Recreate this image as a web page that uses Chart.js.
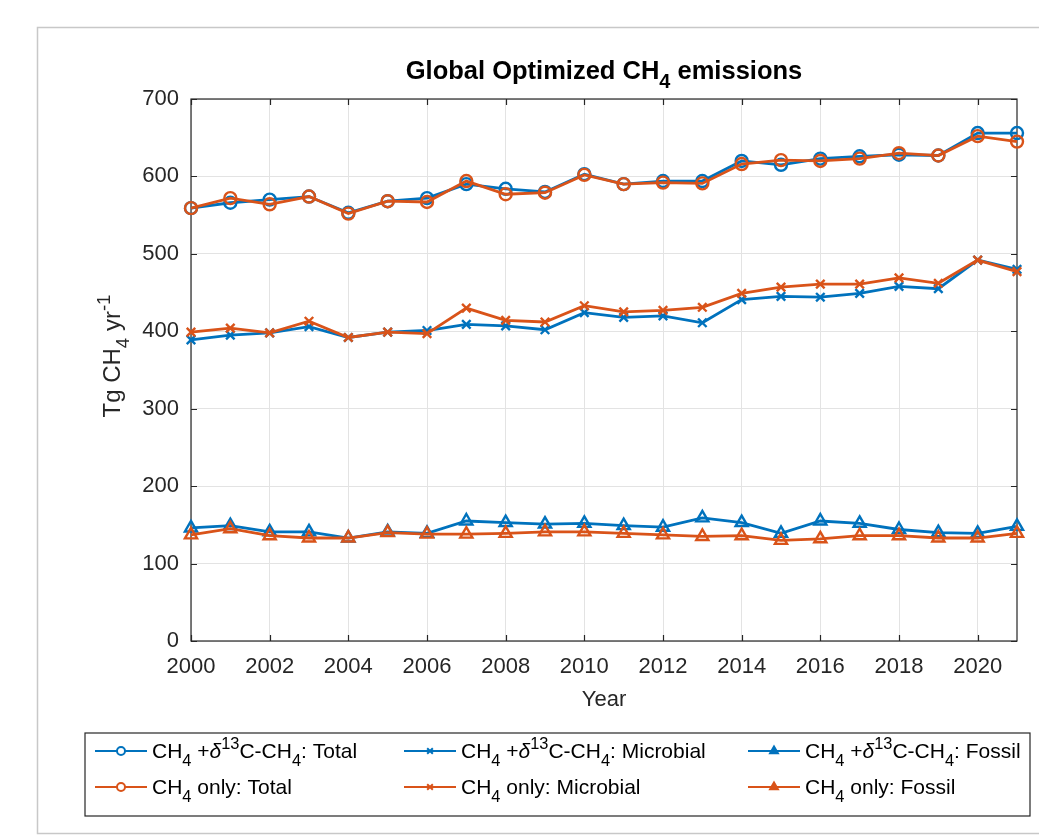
<!DOCTYPE html>
<html>
<head>
<meta charset="utf-8">
<script src="https://cdn.jsdelivr.net/npm/chart.js@4.4.1/dist/chart.umd.min.js"></script>
<style>
  html, body { margin: 0; padding: 0; background: #ffffff; }
  canvas { display: block; }
</style>
</head>
<body>
<canvas id="chart" width="1039" height="835"></canvas>
<script>
// Annual global optimized CH4 emissions (Tg CH4 / yr)
const years = [2000, 2001, 2002, 2003, 2004, 2005, 2006, 2007, 2008, 2009, 2010,
               2011, 2012, 2013, 2014, 2015, 2016, 2017, 2018, 2019, 2020, 2021];

// CH4 + δ13C-CH4 inversion
const totalIso   = [559, 566, 570, 574, 553, 568, 572, 590, 584, 580, 603, 590, 594, 594, 620, 615, 623, 626, 628, 627, 656, 656];
const microIso   = [389, 395, 398, 406, 392, 399, 401, 409, 407, 402, 424, 418, 420, 411, 441, 445, 444, 449, 458, 455, 492, 480];
const fossilIso  = [146, 149, 141, 141, 133, 141, 139, 155, 153, 151, 152, 149, 147, 159, 153, 139, 155, 152, 144, 140, 139, 148];

// CH4-only inversion
const totalOnly  = [559, 572, 564, 574, 552, 568, 567, 594, 577, 579, 602, 590, 592, 591, 616, 621, 620, 623, 630, 627, 652, 645];
const microOnly  = [399, 404, 398, 413, 392, 399, 397, 430, 414, 412, 433, 425, 427, 431, 449, 457, 461, 461, 469, 462, 492, 477];
const fossilOnly = [137, 145, 136, 133, 133, 140, 138, 138, 139, 141, 141, 139, 137, 135, 136, 130, 132, 136, 136, 133, 133, 139];

// Axis ticks
const xTickYears = [2000, 2002, 2004, 2006, 2008, 2010, 2012, 2014, 2016, 2018, 2020];
const yTickValues = [0, 100, 200, 300, 400, 500, 600, 700];

const BLUE = '#0072BD';
const ORANGE = '#D95319';
const AXIS = '#262626';
const FONT = '"Liberation Sans", Arial, Helvetica, sans-serif';

const toPoints = arr => arr.map((v, i) => ({ x: years[i], y: v }));

const seriesDefs = [
  { key: 'totalIso',   data: totalIso,   color: BLUE,   style: 'circle',   radius: 6, order: 1,
    label: [['CH'], ['4', 'sub'], [' +'], ['δ', 'it'], ['13', 'sup'], ['C-CH'], ['4', 'sub'], [': Total']] },
  { key: 'microIso',   data: microIso,   color: BLUE,   style: 'crossRot', radius: 6, order: 1,
    label: [['CH'], ['4', 'sub'], [' +'], ['δ', 'it'], ['13', 'sup'], ['C-CH'], ['4', 'sub'], [': Microbial']] },
  { key: 'fossilIso',  data: fossilIso,  color: BLUE,   style: 'triangle', radius: 7, order: 1,
    label: [['CH'], ['4', 'sub'], [' +'], ['δ', 'it'], ['13', 'sup'], ['C-CH'], ['4', 'sub'], [': Fossil']] },
  { key: 'totalOnly',  data: totalOnly,  color: ORANGE, style: 'circle',   radius: 6, order: 0,
    label: [['CH'], ['4', 'sub'], [' only: Total']] },
  { key: 'microOnly',  data: microOnly,  color: ORANGE, style: 'crossRot', radius: 6, order: 0,
    label: [['CH'], ['4', 'sub'], [' only: Microbial']] },
  { key: 'fossilOnly', data: fossilOnly, color: ORANGE, style: 'triangle', radius: 7, order: 0,
    label: [['CH'], ['4', 'sub'], [' only: Fossil']] }
];

// ---- rich text (sub/superscripts) ----
function segFont(kind, size, bold) {
  const s = (kind === 'sub' || kind === 'sup') ? size * 0.78 : size;
  const style = kind === 'it' ? 'italic ' : '';
  return style + (bold ? 'bold ' : '') + s.toFixed(1) + 'px ' + FONT;
}
function richWidth(ctx, segs, size, bold) {
  let w = 0;
  for (const [t, kind] of segs) {
    ctx.font = segFont(kind, size, bold);
    w += ctx.measureText(t).width;
  }
  return w;
}
function drawRich(ctx, segs, x, y, size, bold, align) {
  ctx.save();
  ctx.textBaseline = 'alphabetic';
  ctx.textAlign = 'left';
  let cx = x;
  if (align === 'center') cx = x - richWidth(ctx, segs, size, bold) / 2;
  for (const [t, kind] of segs) {
    ctx.font = segFont(kind, size, bold);
    let dy = 0;
    if (kind === 'sub') dy = size * 0.36;
    if (kind === 'sup') dy = -size * 0.42;
    ctx.fillText(t, cx, y + dy);
    cx += ctx.measureText(t).width;
  }
  ctx.restore();
}

// ---- figure decorations: frame, axes box, ticks, title, labels, legend ----
const decorations = {
  id: 'decorations',
  beforeDraw(chart) {
    const ctx = chart.ctx;
    ctx.save();
    ctx.fillStyle = '#ffffff';
    ctx.fillRect(0, 0, chart.width, chart.height);
    ctx.strokeStyle = '#c8c8c8';
    ctx.lineWidth = 1.5;
    ctx.strokeRect(37.5, 27.5, chart.width + 20, 806);
    ctx.restore();
  },
  beforeDatasetsDraw(chart) {
    const ctx = chart.ctx;
    const a = chart.chartArea;
    const xs = chart.scales.x, ys = chart.scales.y;
    ctx.save();
    ctx.strokeStyle = AXIS;
    ctx.lineWidth = 1.2;
    ctx.strokeRect(a.left, a.top, a.right - a.left, a.bottom - a.top);
    const tl = 6;
    ctx.beginPath();
    for (const v of xTickYears) {
      const px = Math.round(xs.getPixelForValue(v)) + 0.5;
      ctx.moveTo(px, a.bottom); ctx.lineTo(px, a.bottom - tl);
      ctx.moveTo(px, a.top); ctx.lineTo(px, a.top + tl);
    }
    for (const v of yTickValues) {
      const py = Math.round(ys.getPixelForValue(v)) + 0.5;
      ctx.moveTo(a.left, py); ctx.lineTo(a.left + tl, py);
      ctx.moveTo(a.right, py); ctx.lineTo(a.right - tl, py);
    }
    ctx.stroke();
    ctx.restore();
  },
  afterDraw(chart) {
    const ctx = chart.ctx;
    const a = chart.chartArea;
    const midX = (a.left + a.right) / 2;
    ctx.save();
    ctx.fillStyle = '#000000';
    // title
    drawRich(ctx, [['Global Optimized CH'], ['4', 'sub'], [' emissions']], midX, 79, 25.5, true, 'center');
    ctx.fillStyle = AXIS;
    // x axis label
    drawRich(ctx, [['Year']], midX, 706, 22, false, 'center');
    // y axis label (rotated)
    ctx.save();
    ctx.translate(120, 356);
    ctx.rotate(-Math.PI / 2);
    drawRich(ctx, [['Tg CH'], ['4', 'sub'], [' yr'], ['-1', 'sup']], 0, 0, 24, false, 'center');
    ctx.restore();

    // legend
    ctx.strokeStyle = AXIS;
    ctx.lineWidth = 1.2;
    ctx.strokeRect(85, 733, 945, 83);
    const colX = [95, 404, 748];
    const rowY = [751, 787];
    seriesDefs.forEach((s, i) => {
      const col = i % 3, row = Math.floor(i / 3);
      const x0 = colX[col], y0 = rowY[row];
      const x1 = x0 + 52;
      ctx.strokeStyle = s.color;
      ctx.lineWidth = 2.2;
      ctx.beginPath();
      ctx.moveTo(x0, y0); ctx.lineTo(x1, y0);
      ctx.stroke();
      ctx.lineWidth = 2;
      ctx.fillStyle = s.style === 'triangle' ? s.color : '#ffffff';
      Chart.helpers.drawPoint(ctx, { pointStyle: s.style, radius: s.style === 'triangle' ? 4.5 : 4, rotation: 0, borderWidth: 2 }, (x0 + x1) / 2, y0);
      ctx.fillStyle = '#000000';
      drawRich(ctx, s.label, x1 + 5, y0 + 7, 21, false, 'left');
    });
    ctx.restore();
  }
};

const datasets = seriesDefs.map(s => ({
  label: s.key,
  data: toPoints(s.data),
  borderColor: s.color,
  backgroundColor: 'rgba(0,0,0,0)',
  pointBorderColor: s.color,
  pointBackgroundColor: 'rgba(0,0,0,0)',
  pointStyle: s.style,
  pointRadius: s.radius,
  pointBorderWidth: 2.4,
  borderWidth: 2.8,
  tension: 0,
  clip: false,
  order: s.order
}));

new Chart(document.getElementById('chart'), {
  type: 'line',
  data: { datasets },
  options: {
    responsive: false,
    animation: false,
    events: [],
    layout: { padding: { left: 71, right: 22, top: 99, bottom: 154 } },
    plugins: { legend: { display: false }, title: { display: false }, tooltip: { enabled: false } },
    scales: {
      x: {
        type: 'linear',
        min: 2000, max: 2021,
        afterBuildTicks: sc => { sc.ticks = xTickYears.map(v => ({ value: v })); },
        afterFit: sc => { sc.height = 40; },
        grid: { color: '#e3e3e3', lineWidth: 1, drawTicks: false },
        border: { display: false },
        ticks: { color: AXIS, font: { family: FONT, size: 22 }, padding: 13, maxRotation: 0, autoSkip: false,
                 callback: v => String(v) }
      },
      y: {
        type: 'linear',
        min: 0, max: 700,
        afterBuildTicks: sc => { sc.ticks = yTickValues.map(v => ({ value: v })); },
        afterFit: sc => { sc.width = 120; },
        grid: { color: '#e3e3e3', lineWidth: 1, drawTicks: false },
        border: { display: false },
        ticks: { color: AXIS, font: { family: FONT, size: 22 }, padding: 12 }
      }
    }
  },
  plugins: [decorations]
});
</script>
</body>
</html>
